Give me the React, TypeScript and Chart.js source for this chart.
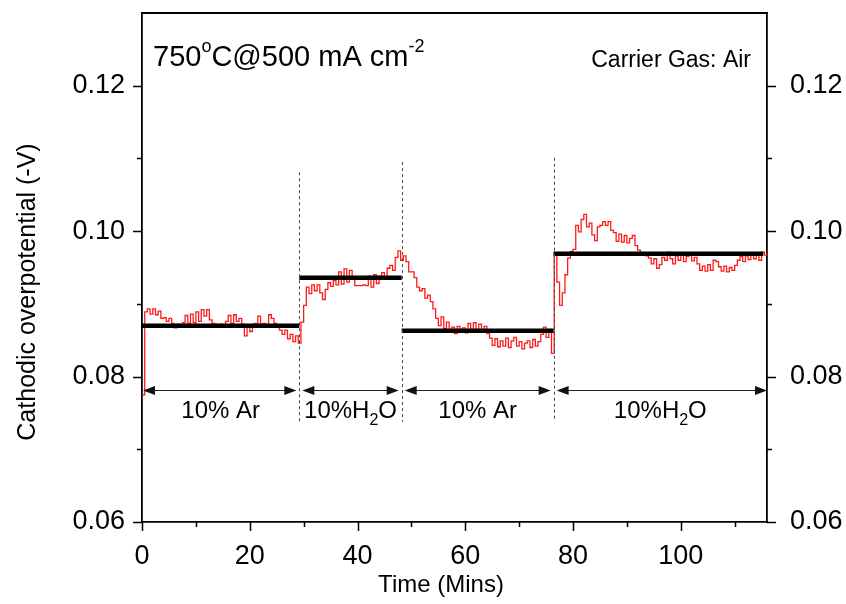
import React, { useEffect, useRef } from "react";
import { Chart, registerables } from "chart.js";

Chart.register(...registerables);

// Cathodic overpotential trace, sampled every half minute (values in mV)
const SAMPLE_STEP_MIN = 0.5;
const OVERPOTENTIAL_MV = [
  77.5, 88.9, 89.3, 88.6, 89.3, 88.5, 89.0, 88.0, 88.1, 87.6,
  88.0, 87.3, 86.7, 87.2, 86.8, 87.4, 88.4, 87.3, 88.6, 87.4,
  88.9, 87.6, 89.2, 88.3, 89.2, 87.8, 87.3, 87.2, 87.1, 87.2,
  86.9, 87.6, 88.4, 87.3, 88.5, 87.6, 88.0, 87.2, 85.6, 87.0,
  86.2, 87.2, 87.3, 88.3, 87.2, 87.3, 87.1, 88.5, 88.0, 87.3,
  87.0, 86.4, 85.8, 86.4, 85.2, 85.8, 84.8, 85.6, 84.6, 87.5,
  89.8, 92.3, 91.4, 92.6, 91.8, 92.6, 91.5, 90.6, 92.0, 92.9,
  92.4, 93.2, 92.6, 94.4, 92.7, 94.8, 93.0, 94.6, 93.4, 92.5,
  92.5, 92.5, 92.6, 92.5, 93.8, 92.3, 94.0, 92.8, 93.8, 94.3,
  93.6, 94.9, 95.3, 94.6, 96.4, 97.3, 96.0, 96.6, 95.8, 94.4,
  94.4, 93.6, 92.3, 91.8, 92.1, 90.8, 91.2, 90.3, 89.3, 88.0,
  87.0, 88.2, 86.6, 87.5, 86.3, 86.8, 85.9, 86.9, 86.2, 86.7,
  86.0, 87.3, 86.5, 87.4, 86.2, 87.2, 86.1, 86.9, 85.9, 85.3,
  84.3, 85.2, 84.1, 84.9, 84.2, 85.3, 84.0, 84.9, 85.4, 84.2,
  84.8, 83.8, 84.6, 84.9, 84.0, 85.1, 84.2, 84.8, 85.8, 86.8,
  85.4, 86.5, 83.2, 97.0, 93.0, 89.8, 91.5, 94.0, 96.3, 97.2,
  97.5, 100.8, 99.9, 101.6, 102.3, 100.6, 101.1, 99.5, 98.7, 100.6,
  100.8, 101.3, 100.8, 101.3, 100.1, 99.8, 98.6, 99.6, 98.5, 99.4,
  98.4, 99.0, 99.4, 98.0, 97.4, 97.0, 96.8, 96.6, 96.3, 95.5,
  96.2, 94.9, 95.4, 96.4, 96.0, 97.1, 96.2, 95.5, 96.6, 96.0,
  96.9, 95.8, 96.5, 97.0, 95.9, 96.4, 95.5, 94.6, 95.2, 94.5,
  95.4, 94.6, 96.0, 95.8, 95.1, 94.5, 95.2, 94.4, 95.0, 94.6,
  95.3, 96.0, 96.5, 95.8, 96.6, 96.1, 97.0, 96.2, 96.8, 96.0,
  97.1, 96.7, 97.0,
];

// Gas-feed stages (minutes) and the mean overpotential of each stage (V)
const STAGE_BOUNDS = [0, 29.2, 48.2, 76.4, 116];
const STAGE_MEAN_ENDS = [29.2, 48.2, 76.4, 115.3];
const STAGE_MEANS = [0.087, 0.0936, 0.0863, 0.0969];
const STAGE_LABELS = ["10% Ar", "10%H_2O", "10% Ar", "10%H_2O"];
const DIVIDER_TOPS = [0.1081, 0.1095, 0.1101];
const DIVIDER_BOTTOM = 0.0738;
const ARROW_LEVEL = 0.0782;
const LABEL_LEVEL = 0.0755;

// Axis ranges and ticks
const X_RANGE = [0, 116];
const Y_RANGE = [0.06, 0.13];
const X_MAJOR = [0, 20, 40, 60, 80, 100];
const X_MINOR = [10, 30, 50, 70, 90, 110];
const Y_MAJOR = [0.06, 0.08, 0.1, 0.12];
const Y_MINOR = [0.07, 0.09, 0.11];

const FONT = "'Liberation Sans', Arial, sans-serif";

type Part = { t: string; size: number; dy?: number };

function drawParts(ctx: CanvasRenderingContext2D, parts: Part[], x: number, y: number, align: "left" | "center" | "right") {
  ctx.textAlign = "left";
  let total = 0;
  for (const p of parts) {
    ctx.font = `${p.size}px ${FONT}`;
    total += ctx.measureText(p.t).width;
  }
  let cx = align === "left" ? x : align === "center" ? x - total / 2 : x - total;
  for (const p of parts) {
    ctx.font = `${p.size}px ${FONT}`;
    ctx.fillText(p.t, cx, y + (p.dy ?? 0));
    cx += ctx.measureText(p.t).width;
  }
}

function labelParts(label: string, size: number): Part[] {
  const i = label.indexOf("_");
  if (i < 0) return [{ t: label, size }];
  return [
    { t: label.slice(0, i), size },
    { t: label.slice(i + 1, i + 2), size: Math.round(size * 0.65), dy: 7 },
    { t: label.slice(i + 2), size },
  ];
}

const overlay = {
  id: "overlay",
  afterDraw(chart: any) {
    const { ctx, chartArea: a } = chart;
    const x = chart.scales.x;
    const y = chart.scales.y;
    ctx.save();
    ctx.strokeStyle = "#000";
    ctx.fillStyle = "#000";

    // top frame line
    ctx.lineWidth = 1.8;
    ctx.beginPath();
    ctx.moveTo(a.left, a.top);
    ctx.lineTo(a.right + 0.9, a.top);
    ctx.stroke();

    // tick marks
    ctx.lineWidth = 1.5;
    const tick = (x1: number, y1: number, x2: number, y2: number) => {
      ctx.beginPath();
      ctx.moveTo(x1, y1);
      ctx.lineTo(x2, y2);
      ctx.stroke();
    };
    for (const v of Y_MAJOR) {
      const py = Math.round(y.getPixelForValue(v)) + 0.5;
      tick(a.left - 9, py, a.left, py);
      tick(a.right, py, a.right + 9, py);
    }
    for (const v of Y_MINOR) {
      const py = Math.round(y.getPixelForValue(v)) + 0.5;
      tick(a.left - 5, py, a.left, py);
      tick(a.right, py, a.right + 5, py);
    }
    for (const v of X_MAJOR) {
      const px = Math.round(x.getPixelForValue(v)) + 0.5;
      tick(px, a.bottom, px, a.bottom + 9);
    }
    for (const v of X_MINOR) {
      const px = Math.round(x.getPixelForValue(v)) + 0.5;
      tick(px, a.bottom, px, a.bottom + 5);
    }

    // stage dividers
    ctx.strokeStyle = "#444";
    ctx.lineWidth = 1;
    ctx.setLineDash([3, 3]);
    DIVIDER_TOPS.forEach((top, i) => {
      const px = Math.round(x.getPixelForValue(STAGE_BOUNDS[i + 1])) + 0.5;
      tick(px, y.getPixelForValue(top), px, y.getPixelForValue(DIVIDER_BOTTOM));
    });
    ctx.setLineDash([]);

    // double-headed arrows spanning each stage
    const ay = Math.round(y.getPixelForValue(ARROW_LEVEL)) + 0.5;
    ctx.strokeStyle = "#222";
    ctx.fillStyle = "#111";
    const head = (tipX: number, dir: number) => {
      ctx.beginPath();
      ctx.moveTo(tipX, ay);
      ctx.lineTo(tipX - dir * 12, ay - 4.5);
      ctx.lineTo(tipX - dir * 12, ay + 4.5);
      ctx.closePath();
      ctx.fill();
    };
    for (let i = 0; i < STAGE_BOUNDS.length - 1; i++) {
      const gapL = i === 0 ? 1 : 3;
      const gapR = i === STAGE_BOUNDS.length - 2 ? 0 : 3;
      const x1 = x.getPixelForValue(STAGE_BOUNDS[i]) + gapL;
      const x2 = x.getPixelForValue(STAGE_BOUNDS[i + 1]) - gapR;
      ctx.lineWidth = 1;
      tick(x1 + 6, ay, x2 - 6, ay);
      head(x1, -1);
      head(x2, 1);
    }

    // stage labels
    ctx.fillStyle = "#000";
    ctx.textBaseline = "alphabetic";
    const ly = y.getPixelForValue(LABEL_LEVEL) + 9;
    STAGE_LABELS.forEach((label, i) => {
      const cx = (x.getPixelForValue(STAGE_BOUNDS[i]) + x.getPixelForValue(STAGE_BOUNDS[i + 1])) / 2;
      drawParts(ctx, labelParts(label, 24), cx, ly, "center");
    });

    // condition annotations
    drawParts(
      ctx,
      [
        { t: "750", size: 29 },
        { t: "o", size: 18, dy: -14 },
        { t: "C@500 mA cm", size: 29 },
        { t: "-2", size: 18, dy: -14 },
      ],
      a.left + 11,
      66,
      "left"
    );
    drawParts(ctx, [{ t: "Carrier Gas: Air", size: 23 }], a.right - 16, 67, "right");

    // axis titles
    ctx.font = `24px ${FONT}`;
    ctx.textAlign = "center";
    ctx.textBaseline = "middle";
    ctx.fillText("Time (Mins)", 441, 585);
    ctx.translate(28, 292);
    ctx.rotate(-Math.PI / 2);
    ctx.font = `25px ${FONT}`;
    ctx.fillText("Cathodic overpotential (-V)", 0, 0);
    ctx.restore();
  },
};

export default function App() {
  const canvasRef = useRef<HTMLCanvasElement>(null);

  useEffect(() => {
    const canvas = canvasRef.current;
    if (!canvas) return;

    const trace = OVERPOTENTIAL_MV.map((mv, i) => ({ x: i * SAMPLE_STEP_MIN, y: mv / 1000 }));
    const means = STAGE_MEANS.map((m, i) => ({
      data: [
        { x: STAGE_BOUNDS[i], y: m },
        { x: STAGE_MEAN_ENDS[i], y: m },
      ],
      borderColor: "#000",
      borderWidth: 4.5,
      borderCapStyle: "butt" as const,
      pointRadius: 0,
      order: 1,
    }));

    const tickFont = { family: FONT, size: 27 };
    const noPadding = (s: any) => {
      s.paddingTop = 0;
      s.paddingBottom = 0;
      s.paddingLeft = 0;
      s.paddingRight = 0;
    };
    const yAxis = (position: "left" | "right", width: number) => ({
      type: "linear" as const,
      position,
      min: Y_RANGE[0],
      max: Y_RANGE[1],
      grid: { display: false },
      border: { display: true, color: "#000", width: 1.8 },
      ticks: {
        color: "#000",
        font: tickFont,
        padding: position === "left" ? 9 : 15,
        callback: (v: any) => Number(v).toFixed(2),
      },
      afterBuildTicks: (s: any) => {
        s.ticks = Y_MAJOR.map((value) => ({ value }));
      },
      afterFit: (s: any) => {
        s.width = width;
        noPadding(s);
      },
    });

    const chart = new Chart(canvas, {
      type: "line",
      data: {
        datasets: [
          {
            data: trace,
            borderColor: "#ff1a1a",
            borderWidth: 1.3,
            pointRadius: 0,
            stepped: true,
            order: 2,
          },
          ...means,
        ],
      },
      options: {
        responsive: false,
        animation: false,
        events: [],
        layout: { padding: { top: 13, left: 0, right: 0, bottom: 0 } },
        plugins: { legend: { display: false }, tooltip: { enabled: false } },
        scales: {
          x: {
            type: "linear",
            min: X_RANGE[0],
            max: X_RANGE[1],
            grid: { display: false },
            border: { display: true, color: "#000", width: 1.8 },
            ticks: { color: "#000", font: tickFont, padding: 10, maxRotation: 0 },
            afterBuildTicks: (s: any) => {
              s.ticks = X_MAJOR.map((value) => ({ value }));
            },
            afterFit: (s: any) => {
              s.height = 82;
              noPadding(s);
            },
          },
          y: yAxis("left", 142),
          y2: yAxis("right", 79),
        },
      },
      plugins: [overlay],
    });

    return () => chart.destroy();
  }, []);

  return (
    <div style={{ position: "absolute", left: 0, top: 0, width: 846, height: 604, background: "#fff" }}>
      <canvas ref={canvasRef} width={846} height={604} />
    </div>
  );
}
